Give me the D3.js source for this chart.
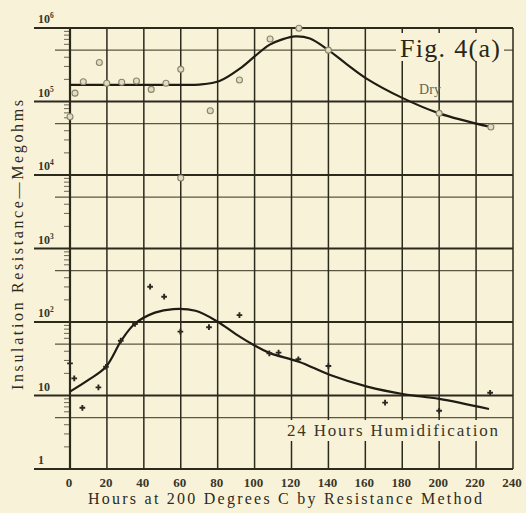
<!DOCTYPE html>
<html>
<head>
<meta charset="utf-8">
<script src="https://cdn.jsdelivr.net/npm/d3@7/dist/d3.min.js"></script>
<style>
body { margin: 0; background: #f8f4dc; }
svg { display: block; }
</style>
</head>
<body>
<div id="chart"></div>
<script>

// axis ticks
var hourTicks = [0, 20, 40, 60, 80, 100, 120, 140, 160, 180, 200, 220, 240];
var decadeTicks = [1, 10, 100, 1e3, 1e4, 1e5, 1e6];
var decadeBase = ['1', '10', '10', '10', '10', '10', '10'];
var decadeExp = ['', '', '2', '3', '4', '5', '6'];
var halfTicks = [5, 50, 500, 5e3, 5e4, 5e5];

// faired curves
var dryCurveHours = [0, 20, 40, 60, 70, 81, 92, 100, 108, 115, 122, 130, 140, 150, 160, 180, 200, 228];
var dryCurveValues = [1.68e5, 1.68e5, 1.68e5, 1.68e5, 1.7e5, 1.9e5, 2.8e5, 4.1e5, 5.9e5, 7.0e5, 7.7e5, 7.2e5, 5.0e5, 3.2e5, 2.1e5, 1.12e5, 6.9e4, 4.5e4];

var humidCurveHours = [0, 10, 19.5, 28, 35, 46, 56, 68, 80, 90, 100, 108, 124, 141, 161, 181, 200, 227];
var humidCurveValues = [11.3, 16.3, 24.6, 57, 94, 134, 150, 142, 101, 68, 48, 38, 28.8, 19, 13.2, 10.4, 9.0, 6.55];

// measured points
var dryPointHours = [0, 2.7, 7.2, 15.9, 19.9, 28, 36, 44, 52, 60, 60, 76, 91.8, 108.4, 124, 140, 200, 228];
var dryPointValues = [6.2e4, 1.3e5, 1.86e5, 3.4e5, 1.77e5, 1.83e5, 1.9e5, 1.46e5, 1.77e5, 2.74e5, 9.1e3, 7.5e4, 1.96e5, 7.1e5, 9.9e5, 5.0e5, 6.9e4, 4.5e4];

var humidPointHours = [0, 2.3, 6.7, 15.4, 19.5, 27.5, 35.2, 43.4, 51, 59.8, 75.3, 91.8, 108, 113, 123.7, 140, 170.7, 200, 227.6];
var humidPointValues = [27.4, 17.1, 6.8, 12.9, 24.6, 55.7, 94, 302, 221, 74, 85, 124, 37.5, 38.3, 31.1, 25.2, 8.0, 6.2, 10.9];

var width = 526, height = 513;
var paper = '#f8f3d8', ink = '#2c291d';
var serif = '"Liberation Serif", "Times New Roman", "DejaVu Serif", serif';

var svg = d3.select('#chart').append('svg')
    .attr('width', width)
    .attr('height', height)
    .attr('font-family', serif);

svg.append('rect')
    .attr('width', width)
    .attr('height', height)
    .attr('fill', paper);

var x = d3.scaleLinear().domain([0, 240]).range([70, 513]);
var y = d3.scaleLog().domain([1, 1e6]).range([469, 28]);

var grid = svg.append('g');

// minor log ticks left of the axis
var minorTicks = [];
decadeTicks.slice(0, 6).forEach(function(d){
    [2, 3, 4, 6, 7, 8, 9].forEach(function(m){ minorTicks.push(d * m); });
});
grid.selectAll('.minor').data(minorTicks).enter().append('line')
    .attr('x1', 64).attr('x2', 70)
    .attr('y1', function(d){ return y(d); })
    .attr('y2', function(d){ return y(d); })
    .attr('stroke', '#6b6550').attr('stroke-width', 1);

// half-decade lines
grid.selectAll('.half').data(halfTicks).enter().append('line')
    .attr('x1', 55).attr('x2', x(240))
    .attr('y1', function(d){ return y(d); })
    .attr('y2', function(d){ return y(d); })
    .attr('stroke', '#5c5642').attr('stroke-width', 1.3);

// vertical hour lines
grid.selectAll('.vert').data(hourTicks).enter().append('line')
    .attr('x1', function(d){ return x(d); })
    .attr('x2', function(d){ return x(d); })
    .attr('y1', y(1e6)).attr('y2', y(1))
    .attr('stroke', ink)
    .attr('stroke-width', function(d){ return d === 0 ? 2.2 : 1.5; });

// decade lines
grid.selectAll('.decade').data(decadeTicks).enter().append('line')
    .attr('x1', 34).attr('x2', x(240))
    .attr('y1', function(d){ return y(d); })
    .attr('y2', function(d){ return y(d); })
    .attr('stroke', ink).attr('stroke-width', 2);

// decade labels
var ylab = svg.selectAll('.ylab').data(decadeTicks).enter().append('text')
    .attr('x', 38)
    .attr('y', function(d){ return y(d) - 5; })
    .attr('font-size', 12)
    .attr('font-weight', 'bold')
    .attr('fill', '#3a3628');
ylab.append('tspan').text(function(d, i){ return decadeBase[i]; });
ylab.append('tspan')
    .attr('font-size', 7.5)
    .attr('dy', -5)
    .text(function(d, i){ return decadeExp[i]; });

// hour labels
svg.selectAll('.xlab').data(hourTicks).enter().append('text')
    .attr('x', function(d){ return x(d) - 1; })
    .attr('y', 487)
    .attr('text-anchor', 'middle')
    .attr('font-size', 13)
    .attr('font-weight', 'bold')
    .attr('fill', '#3a3628')
    .text(function(d){ return d; });

svg.append('text')
    .attr('x', 88).attr('y', 504)
    .attr('font-size', 16)
    .attr('fill', '#2e2a1e')
    .attr('textLength', 394)
    .attr('lengthAdjust', 'spacing')
    .text('Hours at 200 Degrees C by Resistance Method');

svg.append('text')
    .attr('transform', 'translate(23,245) rotate(-90)')
    .attr('text-anchor', 'middle')
    .attr('font-size', 16)
    .attr('fill', '#2e2a1e')
    .attr('textLength', 290)
    .attr('lengthAdjust', 'spacing')
    .text('Insulation Resistance\u2014Megohms');

// curves
var line = d3.line()
    .x(function(d){ return x(d[0]); })
    .y(function(d){ return y(d[1]); })
    .curve(d3.curveCatmullRom.alpha(0.5));

var dryCurve = d3.zip(dryCurveHours, dryCurveValues);
var humidCurve = d3.zip(humidCurveHours, humidCurveValues);

svg.selectAll('.curve').data([dryCurve, humidCurve]).enter().append('path')
    .attr('d', line)
    .attr('fill', 'none')
    .attr('stroke', '#1f1c13')
    .attr('stroke-width', 2.2);

// points
svg.selectAll('.dry').data(d3.zip(dryPointHours, dryPointValues)).enter().append('circle')
    .attr('cx', function(d){ return x(d[0]); })
    .attr('cy', function(d){ return y(d[1]); })
    .attr('r', 3)
    .attr('fill', '#e2dcc2')
    .attr('stroke', '#8a846c')
    .attr('stroke-width', 1.1);

var cross = d3.symbol().type(d3.symbolCross).size(18);
svg.selectAll('.humid').data(d3.zip(humidPointHours, humidPointValues)).enter().append('path')
    .attr('transform', function(d){ return 'translate(' + x(d[0]) + ',' + y(d[1]) + ')'; })
    .attr('d', cross)
    .attr('fill', '#2a2720');

// labels set on paper patches
svg.append('rect')
    .attr('x', 396).attr('y', 33).attr('width', 108).attr('height', 28)
    .attr('fill', paper);
svg.append('text')
    .attr('x', 400).attr('y', 57)
    .attr('font-size', 26)
    .attr('fill', '#2a2619')
    .attr('textLength', 100)
    .attr('lengthAdjust', 'spacing')
    .text('Fig. 4(a)');

svg.append('text')
    .attr('x', 430).attr('y', 94)
    .attr('text-anchor', 'middle')
    .attr('font-size', 14)
    .attr('fill', '#6a6450')
    .text('Dry');

svg.append('rect')
    .attr('x', 284).attr('y', 420).attr('width', 220).attr('height', 21)
    .attr('fill', paper);
svg.append('text')
    .attr('x', 287).attr('y', 436)
    .attr('font-size', 17)
    .attr('fill', '#3a3628')
    .attr('textLength', 211)
    .attr('lengthAdjust', 'spacing')
    .text('24 Hours Humidification');

</script>
</body>
</html>
